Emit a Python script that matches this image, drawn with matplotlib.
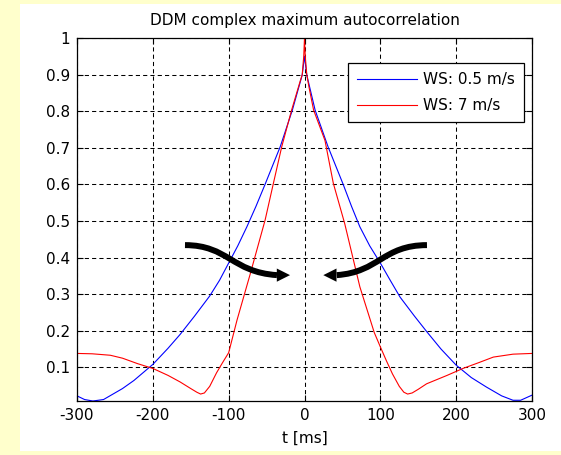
import numpy as np
import matplotlib
matplotlib.use("Agg")
import matplotlib.pyplot as plt
from matplotlib.path import Path
from matplotlib.patches import PathPatch, FancyArrowPatch, Rectangle

# --- Autocorrelation curves (lag in ms) ---
t_calm = [-300, -290, -279, -265, -250, -240, -225, -200, -180, -164, -145,
          -125, -112, -100, -88, -76, -64, -52, -32, -16, -3, 0, 3, 14, 31,
          51, 62, 73, 86, 100, 113, 126, 145, 161, 180, 200, 220, 240, 260,
          275, 285, 300]
r_calm = [0.022, 0.012, 0.008, 0.012, 0.030, 0.042, 0.064, 0.108, 0.152,
          0.190, 0.240, 0.295, 0.338, 0.385, 0.432, 0.484, 0.540, 0.600,
          0.703, 0.803, 0.899, 0.950, 0.899, 0.803, 0.703, 0.600, 0.540,
          0.484, 0.432, 0.385, 0.338, 0.292, 0.240, 0.198, 0.150, 0.106,
          0.072, 0.046, 0.022, 0.010, 0.010, 0.024]

t_windy = [-300, -280, -256, -240, -220, -200, -180, -164, -150, -142, -137,
           -132, -125, -116, -108, -100, -89, -72, -52, -41, -30, -17, -6,
           -3, -1, 0, 1, 3, 6, 12, 27, 38, 53, 73, 92, 100, 108, 116, 125,
           131, 136, 142, 150, 161, 188, 209, 230, 249, 275, 300]
r_windy = [0.138, 0.137, 0.133, 0.125, 0.110, 0.097, 0.078, 0.060, 0.042,
           0.032, 0.027, 0.030, 0.048, 0.085, 0.113, 0.140, 0.229, 0.352,
           0.502, 0.603, 0.703, 0.803, 0.880, 0.900, 0.950, 1.000, 0.950,
           0.900, 0.865, 0.803, 0.720, 0.603, 0.493, 0.320, 0.195, 0.156,
           0.118, 0.082, 0.048, 0.032, 0.027, 0.030, 0.040, 0.055, 0.078,
           0.097, 0.113, 0.128, 0.136, 0.138]

labels = ["WS: 0.5 m/s", "WS: 7 m/s"]
x_ticks = [-300, -200, -100, 0, 100, 200, 300]
y_ticks = [0.1, 0.2, 0.3, 0.4, 0.5, 0.6, 0.7, 0.8, 0.9, 1.0]
y_ticklabels = ["0.1", "0.2", "0.3", "0.4", "0.5", "0.6", "0.7", "0.8", "0.9", "1"]

# S-shaped pointer arrows: (tail, ctrl1, ctrl2, head base, tip)
arrow_left = [(-157.6, 0.434), (-100.9, 0.434), (-95.6, 0.360), (-36.3, 0.352), (-19.1, 0.352)]
arrow_right = [(161.5, 0.434), (103.5, 0.434), (98.3, 0.360), (42.5, 0.352), (24.8, 0.352)]

plt.rcParams["font.family"] = ["DejaVu Sans"]
plt.rcParams["font.size"] = 11
plt.rcParams["axes.unicode_minus"] = False

fig = plt.figure(figsize=(5.61, 4.55), dpi=100, facecolor="#FFFFCC")
# white panel inside the yellow page border
fig.add_artist(Rectangle((19.5 / 561, 4 / 455), 1 - 19.5 / 561, 447 / 455,
                         transform=fig.transFigure, facecolor="white",
                         edgecolor="none", zorder=-10))

ax = fig.add_axes([77 / 561, 1 - 401 / 455, 455 / 561, 363 / 455])
ax.plot(t_calm, r_calm, color="#0000FF", lw=0.8, label=labels[0])
ax.plot(t_windy, r_windy, color="#FF0000", lw=0.8, label=labels[1])

ax.set_xlim(-300, 300)
ax.set_ylim(min(r_calm), 1)
ax.set_xticks(x_ticks)
ax.set_yticks(y_ticks)
ax.set_yticklabels(y_ticklabels)
ax.tick_params(direction="in", length=4, width=0.8, top=True, right=True,
               pad=5, labelsize=11)
ax.grid(True, color="black", linestyle=(0, (4, 3)), linewidth=0.75)
for s in ax.spines.values():
    s.set_linewidth(0.9)

ax.set_title("DDM complex maximum autocorrelation", fontsize=11, pad=9)
ax.set_xlabel("t [ms]", fontsize=11, labelpad=6)

leg = ax.legend(loc="upper right", bbox_to_anchor=((524 - 77) / 455, 1 - 25 / 363),
                borderaxespad=0, fancybox=False, framealpha=1, edgecolor="black",
                handlelength=3.9, handletextpad=0.4, borderpad=0.6,
                labelspacing=0.7, fontsize=11)
leg.get_frame().set_linewidth(0.9)

for pts in (arrow_left, arrow_right):
    shaft = Path(pts[:4], [Path.MOVETO, Path.CURVE4, Path.CURVE4, Path.CURVE4])
    ax.add_patch(PathPatch(shaft, facecolor="none", edgecolor="black",
                           lw=4.3, capstyle="butt", zorder=5))
    ax.add_patch(FancyArrowPatch(pts[3], pts[4], arrowstyle="-|>,head_length=0.5,head_width=0.25",
                                 mutation_scale=19, lw=0, color="black",
                                 shrinkA=0, shrinkB=0, zorder=5))

fig.savefig("out.png", dpi=100, facecolor=fig.get_facecolor())
